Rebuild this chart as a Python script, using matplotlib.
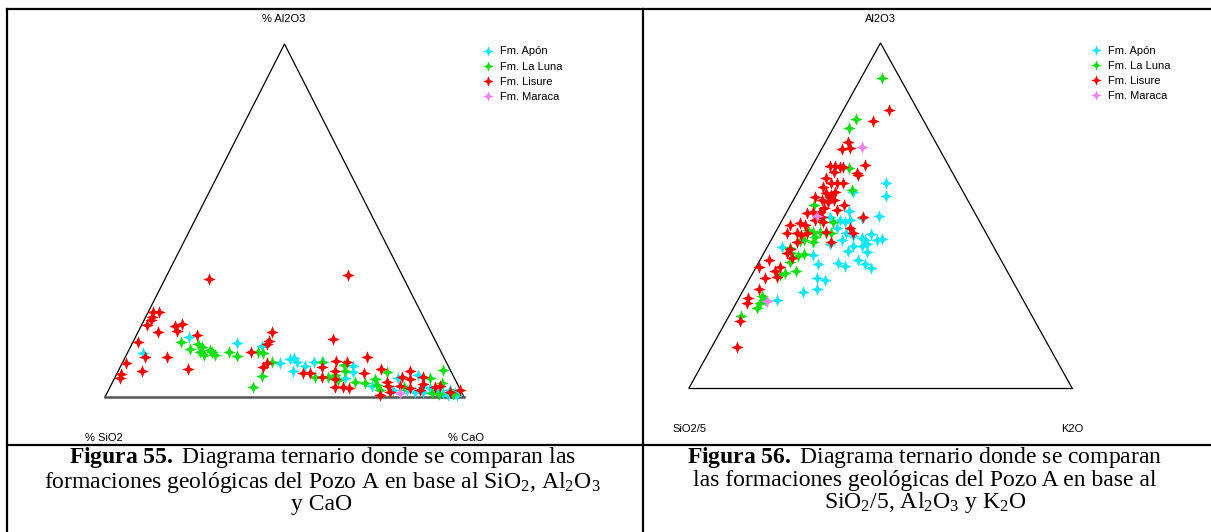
import matplotlib
matplotlib.use("Agg")
import matplotlib.pyplot as plt
from matplotlib.lines import Line2D
from matplotlib.path import Path

W, H = 1211, 532

# Ternario SiO2 - Al2O3 - CaO (porcentajes normalizados, SiO2 = resto)
apon_al2o3 = [16.9, 12.4, 15.2, 14.4, 9.5, 10.7, 11.0, 10.0, 7.5, 8.8, 10.0, 10.0, 8.8, 7.2, 5.3,
              3.1, 2.0, 5.3, 6.2, 1.5, 2.9, 2.5, 2.0, 1.0, 0.6, 1.0, 0.6, 2.0, 1.5, 2.0]
apon_cao = [15.0, 4.5, 29.1, 36.4, 44.0, 46.2, 47.1, 48.4, 48.5, 51.3, 53.2, 55.8, 64.8, 65.6, 64.2,
            72.7, 79.3, 79.0, 84.2, 85.6, 87.2, 89.2, 91.4, 93.7, 95.3, 97.0, 97.7, 95.1, 87.9, 83.0]

luna_al2o3 = [15.7, 13.6, 15.0, 14.3, 12.8, 11.9, 13.3, 11.9, 12.7, 12.7, 11.7, 12.7, 12.4, 10.0,
              5.9, 2.9, 5.8, 10.0, 5.6, 6.2, 9.1, 7.5, 4.3, 3.9, 5.0, 3.4, 7.2, 5.3, 7.6, 3.9,
              1.0, 0.8, 0.8, 2.9, 2.0, 4.8]
luna_cao = [13.2, 16.9, 18.5, 19.8, 20.1, 21.5, 22.6, 24.7, 23.4, 28.1, 30.9, 36.4, 37.9, 41.4,
            40.7, 39.7, 55.6, 55.5, 59.4, 61.0, 61.9, 63.1, 67.5, 70.5, 72.7, 74.0, 75.0, 87.9, 90.4, 91.9,
            90.5, 92.5, 96.6, 81.7, 75.6, 62.6]

lisure_al2o3 = [24.0, 24.2, 22.6, 21.8, 20.4, 18.5, 20.2, 20.6, 18.8, 17.6, 15.5, 11.2, 11.4, 9.5,
                6.4, 5.3, 7.5, 7.8, 18.3, 16.0, 15.0, 12.7, 8.4, 9.5, 16.4, 11.4, 10.2, 10.0, 6.9,
                6.7, 8.4, 7.5, 5.6, 5.0, 2.7, 2.7, 2.5, 0.6, 6.7, 7.8, 4.3, 3.1, 5.6, 7.5, 5.0, 5.8,
                3.7, 2.7, 3.1, 2.0, 3.1, 2.5, 2.0, 1.5, 1.5, 33.4, 34.6]
lisure_cao = [1.5, 2.9, 1.7, 1.8, 1.6, 5.6, 9.4, 11.1, 10.7, 16.7, 1.5, 5.5, 11.5, 1.1,
              1.2, 1.5, 6.5, 19.3, 37.3, 37.7, 37.7, 34.2, 39.9, 40.3, 55.4, 67.2, 59.2, 62.3, 51.8,
              53.8, 56.3, 60.3, 57.7, 61.6, 62.7, 65.0, 66.6, 76.3, 68.8, 72.9, 76.3, 77.4, 79.8, 81.2,
              82.5, 85.6, 86.8, 90.5, 91.7, 97.9, 80.6, 83.8, 86.7, 95.3, 78.6, 12.3, 50.4]

maraca_al2o3 = [1.2]
maraca_cao = [81.6]

# Ternario SiO2/5 - Al2O3 - K2O
apon2_al2o3 = [59.5, 55.7, 50.0, 56.9, 49.2, 51.4, 48.7, 48.2, 48.7, 49.7, 46.3, 45.0, 44.1, 43.4,
               42.9, 44.5, 42.9, 43.1, 41.7, 41.2, 41.2, 39.5, 39.8, 37.1, 36.1, 35.4, 35.9, 34.7,
               41.7, 38.6, 35.9, 32.0, 31.3, 28.6, 27.7, 25.5, 40.8, 42.9]
apon2_k2o = [21.6, 23.7, 24.7, 14.4, 20.5, 16.2, 15.1, 16.6, 17.7, 12.0, 15.5, 18.4, 20.9, 23.4,
             24.6, 25.4, 27.6, 28.8, 25.7, 24.7, 22.3, 26.6, 21.7, 25.6, 20.9, 23.0, 28.0, 30.3,
             15.9, 13.0, 15.8, 17.3, 19.8, 19.2, 15.8, 10.1, 3.8, 18.5]

luna2_al2o3 = [89.8, 77.9, 75.5, 63.7, 57.4, 52.9, 45.8, 45.3, 45.3, 44.8, 45.0, 42.9, 42.6, 40.5,
               39.0, 38.3, 38.7, 42.4, 36.6, 34.0, 33.2, 32.8, 26.7, 25.5, 24.5, 23.1, 20.9, 48.2,
               48.7, 43.9]
luna2_k2o = [5.6, 4.7, 3.9, 9.8, 13.8, 6.1, 8.3, 9.8, 11.5, 13.5, 14.7, 8.5, 7.7, 6.2,
             7.1, 9.4, 10.6, 11.3, 8.1, 10.9, 8.5, 7.4, 5.7, 7.0, 6.2, 6.1, 3.1, 13.6,
             9.9, 11.0]

lisure2_al2o3 = [80.6, 77.5, 71.4, 69.2, 69.5, 64.6, 62.2, 61.7, 64.3, 64.3, 64.2, 64.0, 60.8, 62.7,
                 58.4, 59.3, 59.3, 59.3, 56.4, 55.9, 56.9, 55.5, 55.5, 54.5, 54.0, 54.5, 53.0, 51.6,
                 52.1, 51.1, 49.7, 50.8, 51.1, 48.7, 48.2, 47.2, 47.7, 47.2, 44.8, 45.0, 44.3, 44.8,
                 42.4, 40.2, 39.0, 37.6, 42.4, 45.3, 44.8, 46.3, 49.7, 37.1, 35.2, 31.8, 35.0, 33.9,
                 32.3, 28.6, 26.0, 24.5, 19.4, 12.0]
lisure2_k2o = [12.0, 9.4, 5.9, 5.3, 7.2, 13.7, 12.7, 13.3, 4.6, 6.0, 7.3, 8.3, 5.5, 6.5,
               5.9, 7.5, 8.9, 10.6, 7.7, 9.2, 9.6, 9.1, 5.2, 7.4, 9.4, 10.5, 14.1, 12.8,
               9.1, 8.6, 9.8, 5.3, 6.9, 8.6, 11.0, 2.8, 5.1, 6.7, 3.1, 5.6, 7.2, 8.3,
               6.9, 6.3, 6.0, 8.0, 16.0, 13.2, 20.5, 18.8, 20.5, 2.4, 0.8, 3.9, 6.3, 5.5,
               6.8, 4.1, 2.5, 2.8, 3.6, 6.6]

maraca2_al2o3 = [69.8, 49.9, 25.3]
maraca2_k2o = [10.2, 8.4, 7.8]

formations = ["Fm. Apón", "Fm. La Luna", "Fm. Lisure", "Fm. Maraca"]
colors = ["#10e8ff", "#10e010", "#ff0000", "#f080f0"]

star = Path.unit_regular_star(4, 0.4)


def fx(px):
    return px / W


def fy(py):
    return 1 - py / H


def to_xy(top, right):
    # vertice izquierdo abajo, derecho abajo, superior arriba
    ys = [t / 100 for t in top]
    xs = [r / 100 + t / 200 for t, r in zip(top, right)]
    return xs, ys


def ternary(rect, series, base_color, base_lw):
    ax = fig.add_axes(rect)
    ax.set_xlim(0, 1)
    ax.set_ylim(0, 1)
    ax.axis("off")
    ax.plot([1, 0.5, 0], [0, 1, 0], color="black", lw=0.9, clip_on=False)
    ax.plot([0, 1], [0, 0], color=base_color, lw=base_lw, clip_on=False)
    for (top, right), c in zip(series, colors):
        xs, ys = to_xy(top, right)
        ax.plot(xs, ys, ls="none", marker=star, ms=9, color=c, mew=0, clip_on=False)
    return ax


fig = plt.figure(figsize=(W / 100, H / 100), dpi=100)

sans = "Liberation Sans"
serif = "Liberation Serif"
plt.rcParams["mathtext.fontset"] = "custom"
plt.rcParams["mathtext.rm"] = serif
plt.rcParams["mathtext.bf"] = serif + ":bold"
plt.rcParams["mathtext.it"] = serif + ":italic"

ternary([fx(105), fy(397), 359 / W, 353 / H],
        [(apon_al2o3, apon_cao), (luna_al2o3, luna_cao),
         (lisure_al2o3, lisure_cao), (maraca_al2o3, maraca_cao)],
        "#555555", 1.8)
ternary([fx(689), fy(388), 383 / W, 345 / H],
        [(apon2_al2o3, apon2_k2o), (luna2_al2o3, luna2_k2o),
         (lisure2_al2o3, lisure2_k2o), (maraca2_al2o3, maraca2_k2o)],
        "black", 0.9)

# nombres de los vertices
lab = dict(ha="center", va="center", family=sans, fontsize=8)
fig.text(fx(284), fy(19), "% Al2O3", **lab)
fig.text(fx(104), fy(438), "% SiO2", **lab)
fig.text(fx(466), fy(438), "% CaO", **lab)
fig.text(fx(880), fy(19), "Al2O3", **lab)
fig.text(fx(689), fy(429), "SiO2/5", **lab)
fig.text(fx(1072), fy(429), "K2O", **lab)

# leyendas
handles = [Line2D([], [], ls="none", marker=star, ms=7.5, color=c, mew=0) for c in colors]
for x0, y0 in [(482.5, 46.5), (1090.5, 45.5)]:
    fig.legend(handles, formations, loc="upper left", bbox_to_anchor=(fx(x0), fy(y0)),
               frameon=False, borderpad=0, borderaxespad=0, handlelength=1.0,
               handletextpad=0.6, labelspacing=0.47, prop={"family": sans, "size": 8})

# bordes de la tabla
lk = dict(color="black", lw=1.6)
fig.add_artist(Line2D([fx(7), 1], [fy(8.5), fy(8.5)], **lk))
fig.add_artist(Line2D([fx(7), fx(7)], [fy(8.5), 0], **lk))
fig.add_artist(Line2D([fx(643), fx(643)], [fy(8.5), 0], **lk))
fig.add_artist(Line2D([fx(7), 1], [fy(445), fy(445)], **lk))

# pies de figura
cap = dict(ha="center", va="top", multialignment="center", family=serif,
           fontsize=17, linespacing=0.95)
fig.text(fx(322), fy(445.5),
         "$\\mathbf{Figura\\ 55.}$ Diagrama ternario donde se comparan las\n"
         "formaciones geológicas del Pozo A en base al SiO$_2$, Al$_2$O$_3$\n"
         "y CaO", **cap)
fig.text(fx(925), fy(445.5),
         "$\\mathbf{Figura\\ 56.}$ Diagrama ternario donde se comparan\n"
         "las formaciones geológicas del Pozo A en base al\n"
         "SiO$_2$/5, Al$_2$O$_3$ y K$_2$O", **cap)

fig.savefig("out.png", dpi=100)
